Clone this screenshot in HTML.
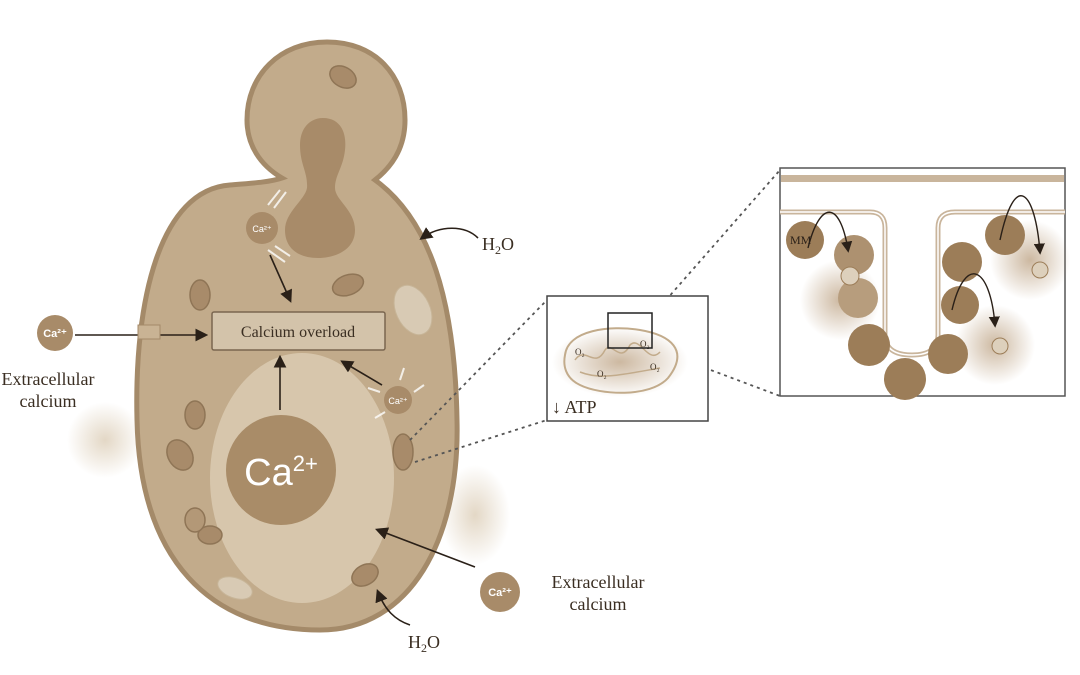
<!DOCTYPE html>
<html><head><meta charset="utf-8"><style>
html,body{margin:0;padding:0;background:#fff;}
svg{display:block;font-family:"Liberation Serif",serif;}
</style></head><body>
<svg width="1080" height="675" viewBox="0 0 1080 675" xmlns="http://www.w3.org/2000/svg">
<defs>
<radialGradient id="glow" cx="50%" cy="50%" r="50%"><stop offset="0" stop-color="#b79a78" stop-opacity="0.7"/><stop offset="1" stop-color="#b79a78" stop-opacity="0"/></radialGradient>
<radialGradient id="deb" cx="50%" cy="50%" r="50%"><stop offset="0" stop-color="#e0d3bf" stop-opacity="0.9"/><stop offset="1" stop-color="#e0d3bf" stop-opacity="0"/></radialGradient>
<marker id="ah" markerWidth="8" markerHeight="8" refX="6" refY="4" orient="auto"><path d="M0,0 L8,4 L0,8 z" fill="#2a2018"/></marker>
</defs>
<!-- debris -->
<ellipse cx="105" cy="440" rx="38" ry="38" fill="url(#deb)"/>
<ellipse cx="475" cy="515" rx="35" ry="50" fill="url(#deb)"/>
<!-- cell -->
<path d="M327,42 C375,42 405,75 405,120 C405,150 390,168 375,180 C430,220 455,300 457,420 C460,540 410,630 320,630 C210,630 140,560 137,420 C134,300 160,190 230,185 C255,183 270,182 282,178 C260,165 247,145 247,120 C247,75 280,42 327,42 Z" fill="#c2ab8b" stroke="#a48a69" stroke-width="5"/>
<!-- inner vacuole -->
<path d="M323,118 C340,118 347,132 345,150 C343,168 335,175 335,188 C335,200 355,210 355,230 C355,250 335,258 318,258 C298,258 285,248 285,230 C285,212 305,200 307,188 C308,172 300,165 300,145 C300,128 310,118 323,118 Z" fill="#a88b69"/>
<!-- nucleus -->
<ellipse cx="302" cy="478" rx="92" ry="125" fill="#d7c6ac"/>
<circle cx="281" cy="470" r="55" fill="#a98c68"/>
<text x="281" y="485" font-family="Liberation Sans,sans-serif" font-size="38" fill="#fff" text-anchor="middle">Ca<tspan font-size="22" dy="-14">2+</tspan></text>
<!-- organelles -->
<g fill="#a88b6a" stroke="#8f7556" stroke-width="1.5">
<ellipse cx="343" cy="77" rx="14" ry="10" transform="rotate(30 343 77)"/>
<ellipse cx="200" cy="295" rx="10" ry="15"/>
<ellipse cx="348" cy="285" rx="16" ry="10" transform="rotate(-20 348 285)"/>
<ellipse cx="180" cy="455" rx="12" ry="16" transform="rotate(-30 180 455)"/>
<ellipse cx="403" cy="452" rx="10" ry="18"/>
<ellipse cx="365" cy="575" rx="14" ry="10" transform="rotate(-30 365 575)"/>
<ellipse cx="195" cy="415" rx="10" ry="14"/>
<ellipse cx="210" cy="535" rx="12" ry="9"/>
<ellipse cx="195" cy="520" rx="10" ry="12" fill="#b39877"/>
</g>
<g fill="#d8cab4" stroke="#c7b598" stroke-width="1">
<ellipse cx="413" cy="310" rx="17" ry="26" transform="rotate(-25 413 310)"/>
<ellipse cx="235" cy="588" rx="18" ry="10" transform="rotate(20 235 588)"/>
</g>
<circle cx="262" cy="228" r="16" fill="#a88b69"/>
<text x="262" y="232" font-size="9" font-family="Liberation Sans,sans-serif" fill="#fff" text-anchor="middle">Ca²⁺</text>
<circle cx="398" cy="400" r="14" fill="#a88b69"/>
<text x="398" y="404" font-size="9" font-family="Liberation Sans,sans-serif" fill="#fff" text-anchor="middle">Ca²⁺</text>
<g stroke="#fff" stroke-width="2" opacity="0.8"><line x1="268" y1="205" x2="280" y2="190"/><line x1="274" y1="208" x2="286" y2="192"/><line x1="268" y1="250" x2="285" y2="262"/><line x1="275" y1="246" x2="290" y2="256"/><line x1="380" y1="392" x2="368" y2="388"/><line x1="414" y1="392" x2="424" y2="385"/><line x1="400" y1="380" x2="404" y2="368"/><line x1="385" y1="412" x2="375" y2="418"/></g>
<!-- calcium overload box -->
<rect x="212" y="312" width="173" height="38" rx="2" fill="#d3c3aa" stroke="#7a6650" stroke-width="1.5"/>
<text x="298" y="337" font-size="16" fill="#3a2e22" text-anchor="middle">Calcium overload</text>
<!-- arrows -->
<g stroke="#2a2018" stroke-width="1.6" fill="none" marker-end="url(#ah)">
<line x1="75" y1="335" x2="205" y2="335"/>
<line x1="270" y1="255" x2="290" y2="300"/>
<line x1="280" y1="410" x2="280" y2="358"/>
<line x1="382" y1="385" x2="343" y2="362"/>
<line x1="475" y1="567" x2="378" y2="530"/>
<path d="M478,238 C465,225 440,225 422,238"/>
<path d="M410,625 C395,620 385,610 378,592"/>
</g>
<rect x="138" y="325" width="22" height="14" fill="#c9b394" stroke="#a48a69"/>
<!-- labels -->
<circle cx="55" cy="333" r="18" fill="#a88b69"/>
<text x="55" y="337" font-size="11" font-family="Liberation Sans,sans-serif" font-weight="bold" fill="#fff" text-anchor="middle">Ca²⁺</text>
<text x="48" y="385" font-size="18" fill="#3a2e22" text-anchor="middle">Extracellular</text>
<text x="48" y="407" font-size="18" fill="#3a2e22" text-anchor="middle">calcium</text>
<circle cx="500" cy="592" r="20" fill="#a88b69"/>
<text x="500" y="596" font-size="11" font-family="Liberation Sans,sans-serif" font-weight="bold" fill="#fff" text-anchor="middle">Ca²⁺</text>
<text x="598" y="588" font-size="18" fill="#3a2e22" text-anchor="middle">Extracellular</text>
<text x="598" y="610" font-size="18" fill="#3a2e22" text-anchor="middle">calcium</text>
<text x="482" y="250" font-size="18" fill="#3a2e22">H<tspan font-size="12" dy="4">2</tspan><tspan dy="-4">O</tspan></text>
<text x="408" y="648" font-size="18" fill="#3a2e22">H<tspan font-size="12" dy="4">2</tspan><tspan dy="-4">O</tspan></text>
<!-- dotted connectors -->
<g stroke="#555" stroke-width="1.8" stroke-dasharray="3,4" fill="none">
<line x1="410" y1="440" x2="547" y2="300"/>
<line x1="415" y1="462" x2="547" y2="420"/>
<line x1="652" y1="316" x2="780" y2="170"/>
<line x1="652" y1="348" x2="780" y2="396"/>
</g>
<!-- small box -->
<rect x="547" y="296" width="161" height="125" fill="#fff" stroke="#444" stroke-width="1.5"/>
<ellipse cx="620" cy="362" rx="68" ry="35" fill="url(#glow)"/>
<path d="M565,355 C568,330 610,325 640,330 C670,335 690,350 668,378 C650,398 600,395 580,385 C565,378 563,365 565,355 Z" fill="none" stroke="#c2ab8b" stroke-width="2"/>
<path d="M575,360 C585,345 595,370 605,350 C612,340 620,365 630,345 C640,335 648,365 660,352 M580,372 C600,380 620,375 660,368" fill="none" stroke="#c2ab8b" stroke-width="1.5"/>
<g font-size="9" fill="#3a2e22"><text x="575" y="355">O₂</text><text x="597" y="377">O₂</text><text x="640" y="347">O₂</text><text x="650" y="370">O₂</text></g>
<rect x="608" y="313" width="44" height="35" fill="none" stroke="#222" stroke-width="1.5"/>
<text x="552" y="413" font-size="18" fill="#3a2e22">↓ ATP</text>
<!-- big box -->
<rect x="780" y="168" width="285" height="228" fill="#fff" stroke="#555" stroke-width="1.5"/>
<rect x="781" y="175" width="283" height="7" fill="#c9b59c"/>
<g fill="url(#glow)"><circle cx="840" cy="300" r="40"/><circle cx="1030" cy="260" r="40"/><circle cx="995" cy="345" r="40"/></g>
<path d="M780,212 H870 Q885,212 885,228 V335 Q885,355 912,355 Q938,355 938,335 V228 Q938,212 955,212 H1065" fill="none" stroke="#c9b59c" stroke-width="5"/>
<path d="M780,212 H870 Q885,212 885,228 V335 Q885,355 912,355 Q938,355 938,335 V228 Q938,212 955,212 H1065" fill="none" stroke="#fff" stroke-width="1.5"/>
<g fill="#9c7d58">
<circle cx="805" cy="240" r="19"/><circle cx="858" cy="298" r="20" fill="#b79d7d"/><circle cx="854" cy="255" r="20" fill="#ad9170"/>
<circle cx="869" cy="345" r="21"/><circle cx="905" cy="379" r="21"/><circle cx="948" cy="354" r="20"/>
<circle cx="962" cy="262" r="20"/><circle cx="960" cy="305" r="19"/><circle cx="1005" cy="235" r="20"/>
</g>
<g fill="#ddd0bc" stroke="#9c7d58"><circle cx="850" cy="276" r="9"/><circle cx="1040" cy="270" r="8"/><circle cx="1000" cy="346" r="8"/></g>
<text x="790" y="244" font-size="12" fill="#2a2018">MM</text>
<g stroke="#2a2018" stroke-width="1.4" fill="none" marker-end="url(#ah)">
<path d="M808,248 C820,200 840,200 848,250"/>
<path d="M1000,240 C1015,170 1035,190 1040,252"/>
<path d="M952,310 C965,255 990,265 995,325"/>
</g>
</svg>
</body></html>
